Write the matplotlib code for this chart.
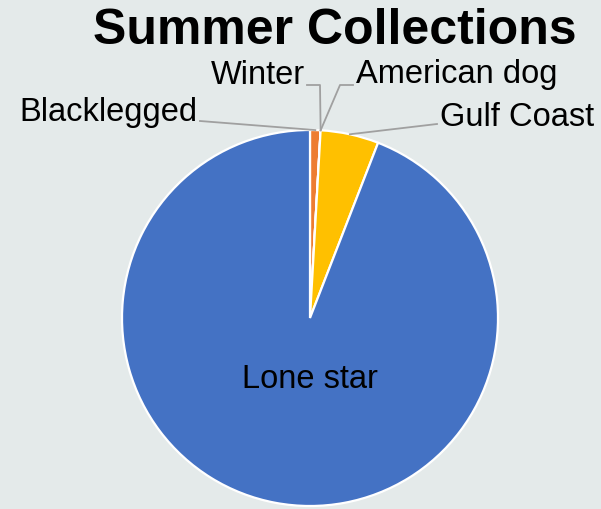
import numpy as np
import matplotlib
matplotlib.use("Agg")
import matplotlib.pyplot as plt

plt.rcParams['font.family'] = ['Liberation Sans', 'DejaVu Sans']

# share of ticks collected in summer, clockwise from 12 o'clock
especies = ['Blacklegged', 'Winter', 'American dog', 'Gulf Coast', 'Lone star']
valores = [0.9, 0.0, 0.0, 5.0, 94.1]
cores = ['#ED7D31', '#A5A5A5', '#5B9BD5', '#FFC000', '#4472C4']

fundo = '#E4EAEA'
W, H = 601, 510

fig = plt.figure(figsize=(W / 100, H / 100), dpi=100, facecolor=fundo)
ax = fig.add_axes([0, 0, 1, 1])
ax.set_facecolor(fundo)

# pie in pixel-like coordinates (y up)
cx, cy, R = 310, H - 319, 188
wedges, _ = ax.pie(valores, colors=cores, startangle=90, counterclock=False,
                   center=(cx, cy), radius=R,
                   wedgeprops=dict(edgecolor='white', linewidth=1.6))
ax.set_xlim(0, W)
ax.set_ylim(0, H)
ax.set_aspect('equal')
ax.axis('off')


def ponto_borda(w):
    ang = np.deg2rad((w.theta1 + w.theta2) / 2)
    return cx + R * np.cos(ang), cy + R * np.sin(ang)


def y(px):
    return H - px


cor_linha = '#A0A0A0'
lw = 1.3
fs = 23.5

# Blacklegged
bx, by = ponto_borda(wedges[0])
ax.plot([200, bx], [y(122), by], color=cor_linha, lw=lw)
ax.text(197, y(113), 'Blacklegged', ha='right', va='center', fontsize=fs)

# Winter
wx, wy = ponto_borda(wedges[1])
ax.plot([307, 320, wx], [y(86), y(86), wy], color=cor_linha, lw=lw)
ax.text(305, y(75), 'Winter', ha='right', va='center', fontsize=fs)

# American dog
ax_, ay_ = ponto_borda(wedges[2])
ax.plot([353, 340, ax_], [y(86), y(86), ay_], color=cor_linha, lw=lw)
ax.text(356, y(75), 'American dog', ha='left', va='center', fontsize=fs)

# Gulf Coast
gx, gy = ponto_borda(wedges[3])
ax.plot([437, gx], [y(125), gy], color=cor_linha, lw=lw)
ax.text(440, y(118), 'Gulf Coast', ha='left', va='center', fontsize=fs)

# Lone star label inside the big slice
ax.text(310, y(380), 'Lone star', ha='center', va='center', fontsize=fs)

ax.text(335, y(31), 'Summer Collections', ha='center', va='center',
        fontsize=36, fontweight='bold')

fig.savefig('out.png', dpi=100, facecolor=fundo)
